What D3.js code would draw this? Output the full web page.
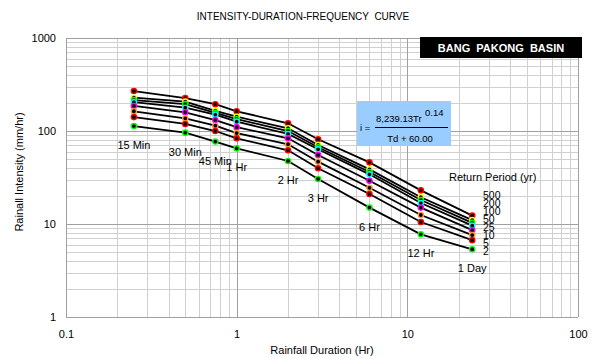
<!DOCTYPE html>
<html>
<head>
<meta charset="utf-8">
<script src="https://cdn.jsdelivr.net/npm/d3@7"></script>
<style>
  html, body { margin: 0; padding: 0; background: #fff; }
  svg { display: block; font-family: "Liberation Sans", Arial, sans-serif; }
</style>
</head>
<body>
<script>
// ---------- data ----------
const durations = [0.25, 0.5, 0.75, 1, 2, 3, 6, 12, 24];
const durationLabels = ["15 Min", "30 Min", "45 Min", "1 Hr", "2 Hr", "3 Hr", "6 Hr", "12 Hr", "1 Day"];
const returnPeriods = [500, 200, 100, 50, 25, 10, 5, 2];
const seriesColors = ["#ff0000", "#ffff00", "#00ff00", "#00ffff", "#ff00ff", "#ff9933", "#ff0000", "#00ff00"];
const r500 = [269, 226, 194, 163, 121, 81.4, 46, 23, 12.3];
const r200 = [228, 207, 165, 142.5, 107, 70.7, 38.7, 19.4, 11];
const r100 = [215, 195, 157, 134, 100, 66.8, 36.2, 18.1, 10.3];
const r50  = [204, 178, 150, 126, 93, 63.6, 34.2, 16.8, 9.6];
const r25  = [186, 159, 131, 110, 83.5, 55.2, 29.2, 15, 8.6];
const r10  = [163, 137, 114, 95, 72, 46.8, 24.5, 12.5, 7.6];
const r5   = [141, 119, 100, 83.5, 62, 39.7, 21, 10.5, 6.7];
const r2   = [113, 96, 77, 65, 47.6, 30.5, 15, 7.75, 5.35];
const seriesValues = [r500, r200, r100, r50, r25, r10, r5, r2];
const xTickValues = [0.1, 1, 10, 100];
const yTickValues = [1, 10, 100, 1000];

// ---------- layout ----------
const W = 600, H = 358;
const L = 66, R = 578, T = 38, B = 317;

const svg = d3.select("body").append("svg").attr("width", W).attr("height", H);

const x = d3.scaleLog().domain([0.1, 100]).range([L, R]);
const y = d3.scaleLog().domain([1, 1000]).range([B, T]);

// grid
const grid = svg.append("g");
const xMinor = x.ticks().filter(v => !xTickValues.includes(v));
const yMinor = y.ticks().filter(v => !yTickValues.includes(v));
grid.selectAll(".xm").data(xMinor).enter().append("line")
  .attr("x1", d => Math.round(x(d)) + 0.5).attr("x2", d => Math.round(x(d)) + 0.5)
  .attr("y1", T).attr("y2", B).attr("stroke", "#d0d0d0").attr("stroke-width", 1);
grid.selectAll(".ym").data(yMinor).enter().append("line")
  .attr("y1", d => Math.round(y(d)) + 0.5).attr("y2", d => Math.round(y(d)) + 0.5)
  .attr("x1", L).attr("x2", R).attr("stroke", "#d0d0d0").attr("stroke-width", 1);
grid.selectAll(".xM").data(xTickValues).enter().append("line")
  .attr("x1", d => Math.round(x(d)) + 0.5).attr("x2", d => Math.round(x(d)) + 0.5)
  .attr("y1", T).attr("y2", B).attr("stroke", "#a0a0a0").attr("stroke-width", 1);
grid.selectAll(".yM").data(yTickValues).enter().append("line")
  .attr("y1", d => Math.round(y(d)) + 0.5).attr("y2", d => Math.round(y(d)) + 0.5)
  .attr("x1", L).attr("x2", R).attr("stroke", "#a0a0a0").attr("stroke-width", 1);

// axes (labels only)
const xAxis = svg.append("g").attr("transform", `translate(0,${B})`)
  .call(d3.axisBottom(x).tickValues(xTickValues).tickSize(0).tickPadding(13).tickFormat(d => String(d)));
const yAxis = svg.append("g").attr("transform", `translate(${L},0)`)
  .call(d3.axisLeft(y).tickValues(yTickValues).tickSize(0).tickPadding(10).tickFormat(d => String(d)));
[xAxis, yAxis].forEach(a => {
  a.select(".domain").remove();
  a.selectAll("text").attr("font-family", "Liberation Sans, Arial, sans-serif")
    .attr("font-size", 11).attr("fill", "#000");
});

// title
svg.append("text").attr("x", 303).attr("y", 20).attr("text-anchor", "middle")
  .attr("font-size", 10).attr("fill", "#000").style("white-space", "pre")
  .text("INTENSITY-DURATION-FREQUENCY  CURVE");

// axis titles
svg.append("text").attr("x", 322).attr("y", 354).attr("text-anchor", "middle")
  .attr("font-size", 11).attr("fill", "#000").text("Rainfall Duration (Hr)");
svg.append("text").attr("transform", "translate(23,172) rotate(-90)").attr("text-anchor", "middle")
  .attr("font-size", 11).attr("fill", "#000").text("Rainall Intensity (mm/hr)");

// basin box
svg.append("rect").attr("x", 420).attr("y", 37).attr("width", 162).attr("height", 21).attr("fill", "#000");
svg.append("text").attr("x", 501).attr("y", 52).attr("text-anchor", "middle")
  .attr("font-size", 11).attr("font-weight", "bold").attr("fill", "#fff")
  .style("white-space", "pre").text("BANG  PAKONG  BASIN");

// formula box
const fb = svg.append("g");
fb.append("rect").attr("x", 357).attr("y", 101).attr("width", 94).attr("height", 45).attr("fill", "#99ccff");
fb.append("text").attr("x", 360).attr("y", 131).attr("font-size", 9.5).text("i =");
fb.append("text").attr("x", 376).attr("y", 122).attr("font-size", 9.5).text("8,239.13Tr");
fb.append("text").attr("x", 425).attr("y", 116).attr("font-size", 9.5).text("0.14");
fb.append("line").attr("x1", 375).attr("x2", 448).attr("y1", 127.5).attr("y2", 127.5)
  .attr("stroke", "#000").attr("stroke-width", 1);
fb.append("text").attr("x", 410).attr("y", 142).attr("text-anchor", "middle").attr("font-size", 9.5).text("Td + 60.00");

// series lines
const line = d3.line().x((d, i) => x(durations[i])).y(d => y(d));
svg.append("g").selectAll("path").data(seriesValues).enter().append("path")
  .attr("d", d => line(d)).attr("fill", "none").attr("stroke", "#000").attr("stroke-width", 1.8);

// markers
seriesValues.forEach((vals, si) => {
  svg.append("g").selectAll("circle").data(vals).enter().append("circle")
    .attr("cx", (d, i) => x(durations[i])).attr("cy", d => y(d)).attr("r", 2.6)
    .attr("fill", "#000").attr("stroke", seriesColors[si]).attr("stroke-width", 1.4);
});

// duration labels
svg.append("g").selectAll("text").data(durationLabels).enter().append("text")
  .attr("x", (d, i) => x(durations[i])).attr("y", (d, i) => y(r2[i]) + 23)
  .attr("text-anchor", "middle").attr("font-size", 11).attr("fill", "#000").text(d => d);

// return period legend
svg.append("text").attr("x", 449).attr("y", 181).attr("font-size", 11).attr("fill", "#000").text("Return Period (yr)");
svg.append("g").selectAll("text").data(returnPeriods).enter().append("text")
  .attr("x", 483).attr("y", (d, i) => 198.5 + i * 8).attr("font-size", 10.5).attr("fill", "#000").text(d => d);
</script>
</body>
</html>
